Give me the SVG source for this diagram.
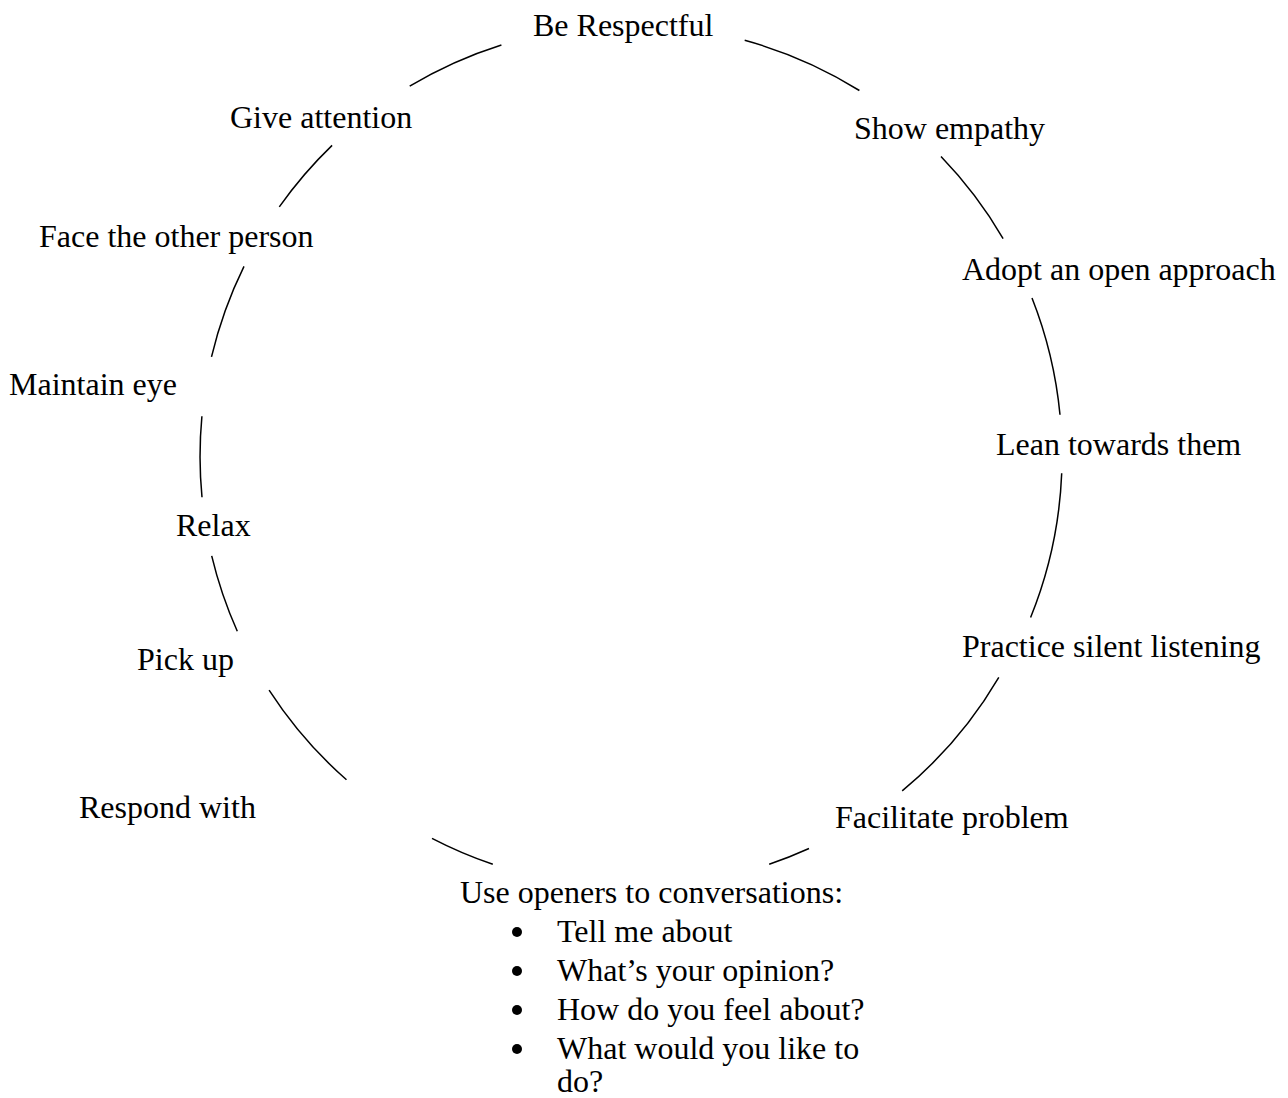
<svg xmlns="http://www.w3.org/2000/svg" width="1288" height="1098" viewBox="0 0 1288 1098">
<style>
.arc{fill:none;stroke:#000;stroke-width:1.5}
text{font-family:"Liberation Serif","Times New Roman",serif;font-size:32px;fill:#000}
.bul{fill:#000}
</style>
<rect width="1288" height="1098" fill="#fff"/>
<g id="connectors">
<path class="arc" d="M409.7,86.2 A431,431 0 0,1 501.4,45.0"/>
<path class="arc" d="M744.7,40.3 A431,431 0 0,1 859.4,90.5"/>
<path class="arc" d="M941.0,156.6 A431,431 0 0,1 1003.1,238.6"/>
<path class="arc" d="M1032.0,298.0 A431,431 0 0,1 1060.0,414.7"/>
<path class="arc" d="M1061.7,473.3 A431,431 0 0,1 1030.6,617.5"/>
<path class="arc" d="M998.8,677.3 A431,431 0 0,1 902.2,790.9"/>
<path class="arc" d="M809.0,848.5 A431,431 0 0,1 769.2,864.2"/>
<path class="arc" d="M492.8,864.2 A431,431 0 0,1 432.0,838.3"/>
<path class="arc" d="M346.5,779.8 A431,431 0 0,1 269.1,690.1"/>
<path class="arc" d="M237.3,631.3 A431,431 0 0,1 211.7,555.9"/>
<path class="arc" d="M202.0,497.3 A431,431 0 0,1 201.9,416.2"/>
<path class="arc" d="M211.5,356.9 A431,431 0 0,1 244.0,266.4"/>
<path class="arc" d="M279.3,206.9 A431,431 0 0,1 332.1,145.4"/>
</g>
<g id="n-respectful"><text x="533" y="36">Be Respectful</text></g>
<g id="n-empathy"><text x="854" y="139">Show empathy</text></g>
<g id="n-open"><text x="962" y="280">Adopt an open approach</text></g>
<g id="n-lean"><text x="996" y="455">Lean towards them</text></g>
<g id="n-silent"><text x="962" y="657">Practice silent listening</text></g>
<g id="n-facilitate"><text x="835" y="828">Facilitate problem</text></g>
<g id="n-openers">
<text x="460" y="903">Use openers to conversations:</text>
<circle class="bul" cx="517" cy="932" r="5"/>
<text x="557" y="942">Tell me about</text>
<circle class="bul" cx="517" cy="971" r="5"/>
<text x="557" y="981">What’s your opinion?</text>
<circle class="bul" cx="517" cy="1010" r="5"/>
<text x="557" y="1020">How do you feel about?</text>
<circle class="bul" cx="517" cy="1049" r="5"/>
<text x="557" y="1059">What would you like to</text>
<text x="557" y="1092">do?</text>
</g>
<g id="n-respond"><text x="79" y="818">Respond with</text></g>
<g id="n-pickup"><text x="137" y="670">Pick up</text></g>
<g id="n-relax"><text x="176" y="536">Relax</text></g>
<g id="n-eye"><text x="9" y="395">Maintain eye</text></g>
<g id="n-face"><text x="39" y="247">Face the other person</text></g>
<g id="n-attention"><text x="230" y="128">Give attention</text></g>
</svg>
